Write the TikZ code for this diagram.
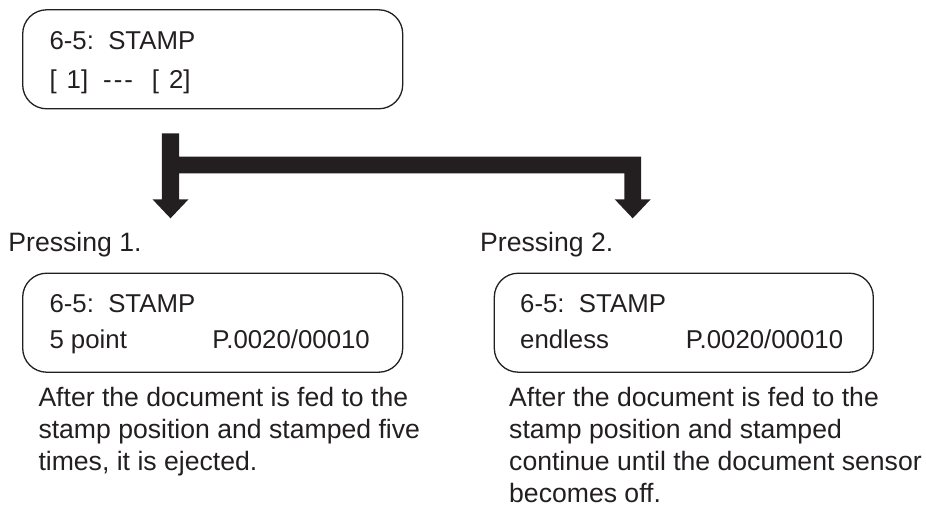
\documentclass[tikz,border=0pt]{standalone}
\usepackage{fontspec}
\setmainfont{Liberation Sans}
\definecolor{ink}{HTML}{231F20}
\begin{document}
\begin{tikzpicture}[x=1pt,y=-1pt,
  lcd/.style={draw=ink, line width=1.3pt, rounded corners=24pt, minimum width=380pt, minimum height=99pt, inner sep=0pt},
  txt/.style={text=ink, inner sep=0pt, anchor=base west, font=\fontsize{25.8}{30}\selectfont},
  para/.style={text=ink, inner sep=0pt, anchor=base west, font=\fontsize{26.6}{32}\selectfont},
  blockarrow/.style={fill=ink, draw=none},
]
\useasboundingbox (0,0) rectangle (926,508);

% top display
\node[lcd] (top) at (212.7,59.3) {};
\node[txt] (top1) at (49.3,50) {6-5:\ \ STAMP};
\node[txt] (top2) at (49.3,89) {[\hspace{10pt}1]\hspace{15pt}-\kern2pt-\kern2pt-\hspace{19pt}[\hspace{10pt}2]};

% branching block arrow
\coordinate (ltip) at (170.5,218.3);
\coordinate (rtip) at (632.7,218.3);
\fill[blockarrow]
  (161.8,133.3) -- (179.2,133.3) -- (179.2,156.7) -- (641,156.7) -- (641,199.3)
  -- (650.7,199.3) -- (rtip) -- (614.7,199.3) -- (624.3,199.3) -- (624.3,173.3)
  -- (179.2,173.3) -- (179.2,199.3) -- (188.5,199.3) -- (ltip) -- (152.5,199.3)
  -- (161.8,199.3) -- cycle;

% labels
\node[para] (p1) at (8.3,251.7) {Pressing 1.};
\node[para] (p2) at (480,251.7) {Pressing 2.};

% left display
\node[lcd] (b1) at (212.7,322.7) {};
\node[txt] (b1l1) at (49.3,312.7) {6-5:\ \ STAMP};
\node[txt] (b1l2) at (49.3,348.7) {5 point};
\node[txt, anchor=base east] (b1p) at (370,348.7) {P.0020/00010};

% right display
\node[lcd, minimum width=379pt] (b2) at (683.8,322.7) {};
\node[txt] (b2l1) at (520,312.7) {6-5:\ \ STAMP};
\node[txt] (b2l2) at (520,348.7) {endless};
\node[txt, anchor=base east] (b2p) at (843.3,348.7) {P.0020/00010};

% descriptions
\node[para] (d1a) at (38.3,406.3) {After the document is fed to the};
\node[para] (d1b) at (38.3,438.7) {stamp position and stamped five};
\node[para] (d1c) at (38.3,470.7) {times, it is ejected.};

\node[para] (d2a) at (509,406.3) {After the document is fed to the};
\node[para] (d2b) at (509,438.7) {stamp position and stamped};
\node[para] (d2c) at (509,470.7) {continue until the document sensor};
\node[para] (d2d) at (509,502.3) {becomes off.};
\end{tikzpicture}
\end{document}
